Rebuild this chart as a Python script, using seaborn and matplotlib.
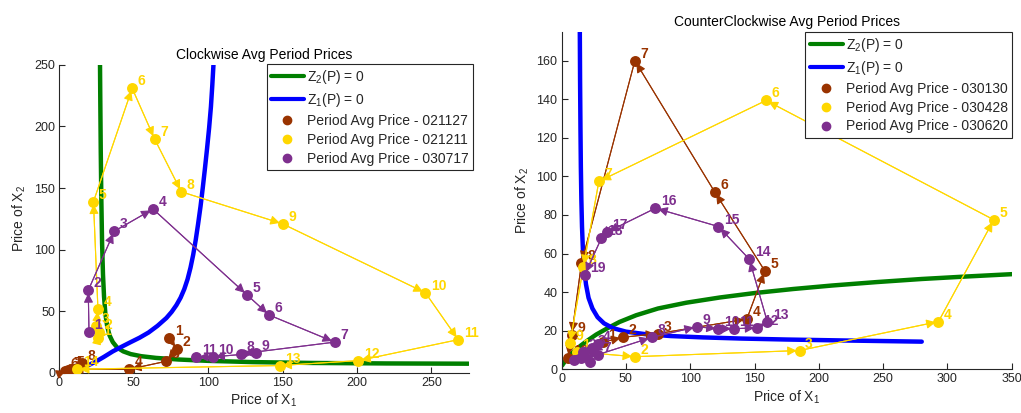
import matplotlib
matplotlib.use("Agg")
import matplotlib.pyplot as plt
from matplotlib.lines import Line2D
import numpy as np
import pandas as pd
import seaborn as sns

sns.set_style("ticks")
plt.rcParams["font.family"] = ["Liberation Sans", "DejaVu Sans"]
plt.rcParams["mathtext.fontset"] = "custom"
plt.rcParams["mathtext.rm"] = "Liberation Sans"
plt.rcParams["mathtext.it"] = "Liberation Sans:italic"

BROWN = "#993300"
GOLD = "#FFD700"
PURPLE = "#7E2F8E"
AXCOL = "#262626"

# ---- Clockwise (left) ----
green_L_x = [27.4, 27.6, 27.9, 28.3, 28.8, 29.4, 30.1, 31.0, 32.2, 33.8, 36, 39, 43, 48, 55,
             65, 80, 100, 130, 170, 220, 275]
green_L_y = [250, 220, 180, 140, 105, 80, 62, 48, 38, 30.5, 25, 20.5, 17.5, 15.3, 13.6,
             12.2, 10.9, 9.8, 8.8, 8.1, 7.7, 7.5]
blue_L_x = [12, 15, 20, 25, 30, 36, 42, 48, 54, 60, 66, 72, 75.5, 78.7, 81.5, 84, 86.2, 88.2,
            90, 91.7, 93.3, 94.9, 96.4, 97.8, 99.3, 100.7, 101.9, 102.8, 103.6]
blue_L_y = [2.5, 4, 6.5, 9.5, 13, 17.5, 21.3, 25, 28.6, 32.8, 38.2, 44.6, 49.5, 55, 61, 68,
            76, 85.5, 96, 108, 121, 135, 150, 165, 182, 199, 216, 233, 250]

brown_L_x = [74, 79, 72, 47, 8, 4, 6, 15]
brown_L_y = [28, 19.5, 9.5, 3, 3, 1.5, 2.5, 8]
gold_L_x = [26, 27, 25, 26, 23, 49, 64, 82, 150, 246, 268, 201, 148, 12]
gold_L_y = [28, 33, 38, 52, 139, 231, 190, 147, 121, 65, 27, 10, 6, 3]
purple_L_x = [20, 19.5, 37, 63, 126, 141, 185, 122, 132, 103, 92]
purple_L_y = [33, 67, 115, 133, 63.5, 47, 25, 15.5, 16, 13, 13]

# ---- CounterClockwise (right) ----
green_R_x = [0.5, 3, 6, 10, 15, 20, 27, 35, 45, 58, 75, 97, 123, 150, 180, 210, 245, 280,
             315, 350]
green_R_y = [2, 4.5, 7, 9.5, 12.3, 14.8, 18, 21, 24.5, 28, 31.5, 34.5, 37.2, 39.5, 41.6,
             43.4, 45.2, 46.8, 48.1, 49.3]
blue_R_x = [14.2, 14.4, 14.7, 15.0, 15.4, 15.9, 16.6, 17.6, 19, 21, 24, 28, 33, 40, 50, 65,
            85, 110, 140, 175, 220, 280]
blue_R_y = [175, 150, 125, 105, 88, 74, 62, 52, 44, 37, 31.5, 27, 23.8, 21.3, 19.5, 18.2,
            17.2, 16.5, 15.9, 15.4, 14.9, 14.3]

brown_R_x = [32, 48, 75, 144, 158, 119, 57, 15.5, 8, 5]
brown_R_y = [14, 16.6, 18.5, 26, 51, 92, 160, 55, 18, 6]
gold_R_x = [12, 57, 185, 293, 336, 159, 29, 17, 6.5]
gold_R_y = [9, 6.5, 9.7, 24.7, 77.5, 139.4, 97.4, 53, 13.5]
purple_R_x = [10, 17, 24, 28, 22, 15, 28, 70, 105, 122, 134, 152, 160, 146, 122, 73, 35, 31, 18]
purple_R_y = [5, 9, 11, 13, 4, 6, 7.5, 16.5, 22, 21, 21, 21.5, 24.5, 57, 74, 83.5, 71, 68, 49]


def draw_path(ax, xs, ys, color, z):
    df = pd.DataFrame({"x": xs, "y": ys})
    sns.lineplot(data=df, x="x", y="y", sort=False, estimator=None, color=color,
                 lw=0.8, ax=ax, zorder=z)
    for i in range(1, len(xs)):
        ax.annotate("", xy=(xs[i], ys[i]), xytext=(xs[i - 1], ys[i - 1]),
                    arrowprops=dict(arrowstyle="-|>", color=color, lw=0.8,
                                    mutation_scale=14, shrinkA=0, shrinkB=2),
                    zorder=z)
    sns.scatterplot(data=df, x="x", y="y", color=color, s=62, edgecolor=color,
                    linewidth=0, ax=ax, zorder=z + 0.5)
    for i, (x, y) in enumerate(zip(xs, ys)):
        ax.annotate(str(i + 1), (x, y), xytext=(4, 5), textcoords="offset points",
                    color=color, fontweight="bold", fontsize=10, va="center",
                    ha="left", zorder=z + 0.6)


def curve(ax, xs, ys, color):
    sns.lineplot(x=xs, y=ys, sort=False, estimator=None, color=color, lw=3.2, ax=ax, zorder=2)


fig = plt.figure(figsize=(10.21, 4.13), dpi=100)
axL = fig.add_axes([0.058, 0.097, 0.401, 0.746])
axR = fig.add_axes([0.550, 0.106, 0.441, 0.817])

curve(axL, green_L_x, green_L_y, "#007F00")
curve(axL, blue_L_x, blue_L_y, "#0000FF")
draw_path(axL, brown_L_x, brown_L_y, BROWN, 3)
draw_path(axL, gold_L_x, gold_L_y, GOLD, 4)
draw_path(axL, purple_L_x, purple_L_y, PURPLE, 5)

curve(axR, green_R_x, green_R_y, "#007F00")
curve(axR, blue_R_x, blue_R_y, "#0000FF")
draw_path(axR, brown_R_x, brown_R_y, BROWN, 3)
draw_path(axR, gold_R_x, gold_R_y, GOLD, 4)
draw_path(axR, purple_R_x, purple_R_y, PURPLE, 5)

axL.set_xlim(0, 275)
axL.set_ylim(0, 250)
axL.set_xticks(np.arange(0, 251, 50))
axL.set_yticks(np.arange(0, 251, 50))
axR.set_xlim(0, 350)
axR.set_ylim(0, 175)
axR.set_xticks(np.arange(0, 351, 50))
axR.set_yticks(np.arange(0, 161, 20))

titles = ["Clockwise Avg Period Prices", "CounterClockwise Avg Period Prices"]
dates = [["021127", "021211", "030717"], ["030130", "030428", "030620"]]
for ax, title, ds in zip([axL, axR], titles, dates):
    ax.set_title(title, fontsize=10, color="black", pad=4)
    ax.set_xlabel("Price of X$_\\mathregular{1}$", fontsize=10, color=AXCOL, labelpad=2)
    ax.set_ylabel("Price of X$_\\mathregular{2}$", fontsize=10, color=AXCOL, labelpad=4)
    ax.tick_params(direction="in", length=4, labelsize=9, colors=AXCOL, pad=3)
    for s in ["top", "right"]:
        ax.spines[s].set_visible(False)
    for s in ["left", "bottom"]:
        ax.spines[s].set_color(AXCOL)
        ax.spines[s].set_linewidth(0.8)
    handles = [
        Line2D([], [], color="#007F00", lw=3),
        Line2D([], [], color="#0000FF", lw=3),
        Line2D([], [], color=BROWN, marker="o", ls="none", ms=6),
        Line2D([], [], color=GOLD, marker="o", ls="none", ms=6),
        Line2D([], [], color=PURPLE, marker="o", ls="none", ms=6),
    ]
    labels = ["Z$_\\mathregular{2}$(P) = 0", "Z$_\\mathregular{1}$(P) = 0"] + \
             ["Period Avg Price - " + d for d in ds]
    leg = ax.legend(handles, labels, loc="upper right", bbox_to_anchor=(1.0, 1.0),
                    borderaxespad=0, fontsize=10, fancybox=False, framealpha=1,
                    edgecolor=AXCOL, handlelength=2.4, handletextpad=0.2,
                    labelspacing=0.35, borderpad=0.3)
    leg.get_frame().set_linewidth(0.8)
    leg.set_zorder(10)

axL.get_legend().set_bbox_to_anchor((1.01, 1.003))

fig.savefig("out.png", dpi=100)
